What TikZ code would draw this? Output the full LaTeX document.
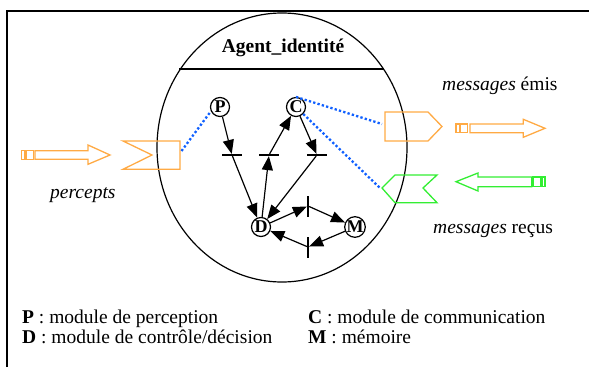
\documentclass[tikz,border=0pt]{standalone}
\usepackage{fontspec}
\setmainfont{Liberation Serif}
\usetikzlibrary{arrows.meta}
\definecolor{orng}{HTML}{FFAA44}
\definecolor{grn}{HTML}{33EE33}
\definecolor{blu}{HTML}{1060FF}
\begin{document}
\begin{tikzpicture}[x=1pt,y=-1pt,
  txt/.style={font=\rmfamily\fontsize{19.5}{20}\selectfont, inner sep=0pt},
  place/.style={circle, draw, line width=1.2pt, minimum size=19pt, inner sep=0pt, font=\rmfamily\fontsize{18}{18}\selectfont\bfseries},
  hbar/.style={rectangle, fill=black, minimum width=20pt, minimum height=1.8pt, inner sep=0pt},
  vbar/.style={rectangle, fill=black, minimum width=1.8pt, minimum height=21pt, inner sep=0pt},
  arr/.style={line width=1.2pt, -{Triangle[length=14pt,width=11pt]}},
  dotline/.style={draw=blu, line width=2.3pt, dash pattern=on 2.3pt off 2.2pt},
  oshape/.style={draw=orng, line width=1.3pt, line join=miter},
  gshape/.style={draw=grn, line width=1.3pt, line join=miter}
]
\useasboundingbox (0,0) rectangle (589,367);
% frame
\draw[line width=2pt] (7,367) -- (7,11) -- (589,11);
% agent
\draw[line width=1.2pt] (282,147.5) ellipse [x radius=125, y radius=134.5];
\draw[line width=1.2pt] (179,69) -- (384,69);
\node[txt, font=\rmfamily\fontsize{19.5}{20}\selectfont\bfseries, anchor=base] (title) at (283,52) {Agent\_identité};
% places
\node[place] (P) at (220,107) {P};
\node[place] (C) at (296,107) {C};
\node[place] (D) at (261,227) {D};
\node[place] (M) at (355,227) {M};
% transitions
\node[hbar] (b1) at (232,155) {};
\node[hbar] (b2) at (269,155) {};
\node[hbar] (b3) at (317,155) {};
\node[vbar] (vu) at (308,206) {};
\node[vbar] (vl) at (308,247) {};
% arcs
\draw[arr] (P) -- (b1);
\draw[arr] (b1) -- (D);
\draw[arr] (D) -- (b2);
\draw[arr] (b2) -- (C);
\draw[arr] (C) -- (b3);
\draw[arr] (b3) -- (D);
\draw[arr] (D) -- (vu);
\draw[arr] (vu) -- (M);
\draw[arr] (M) -- (vl);
\draw[arr] (vl) -- (D);
% percept input
\draw[oshape] (21.7,150.7) rectangle (25,159.3);
\draw[oshape] (26.7,150.7) rectangle (33.3,159.3);
\draw[oshape] (35,150.7) -- (88,150.7) -- (88,145) -- (110,155) -- (88,164.3) -- (88,159.3) -- (35,159.3) -- cycle;
\draw[oshape] (123,141) -- (180,141) -- (180,169.3) -- (123,169.3) -- (152,155) -- cycle;
\coordinate (rcv) at (181.5,151);
\draw[dotline] (rcv) -- (P.205);
% emitter
\draw[oshape] (385,112) -- (428,112) -- (442,126.5) -- (428,141) -- (385,141) -- cycle;
\coordinate (emL) at (382,124);
\draw[dotline] (C.north) -- (emL);
\draw[oshape] (456,124) rectangle (459.3,132.7);
\draw[oshape] (460.7,124) rectangle (467.3,132.7);
\draw[oshape] (470,124) -- (523.3,124) -- (523.3,119.3) -- (545,128.3) -- (523.3,137.3) -- (523.3,132.7) -- (470,132.7) -- cycle;
% receiver
\draw[gshape] (382,188) -- (395,175) -- (437,175) -- (423,188) -- (437,202.7) -- (395,202.7) -- cycle;
\coordinate (grT) at (380,188);
\draw[dotline] (C) -- (grT);
\draw[gshape] (456,181.7) -- (478,173) -- (478,177) -- (531.7,177) -- (531.7,186.7) -- (478,186.7) -- (478,191) -- cycle;
\draw[gshape] (533,177) rectangle (540.7,186.7);
\draw[gshape] (542,177) rectangle (545,186.7);
% labels
\node[txt, anchor=base west] (lemis) at (442,90.5) {\textit{messages} émis};
\node[txt, anchor=base west] (lrecus) at (433,233) {\textit{messages} reçus};
\node[txt, anchor=base west] (lperc) at (50,198) {\textit{percepts}};
% legend
\node[txt, anchor=base west] (lp) at (22,323) {\textbf{P} : module de perception};
\node[txt, anchor=base west] (ld) at (22,343) {\textbf{D} : module de contrôle/décision};
\node[txt, anchor=base west] (lc) at (308,323) {\textbf{C} : module de communication};
\node[txt, anchor=base west] (lm) at (308,343) {\textbf{M} : mémoire};
\end{tikzpicture}
\end{document}
